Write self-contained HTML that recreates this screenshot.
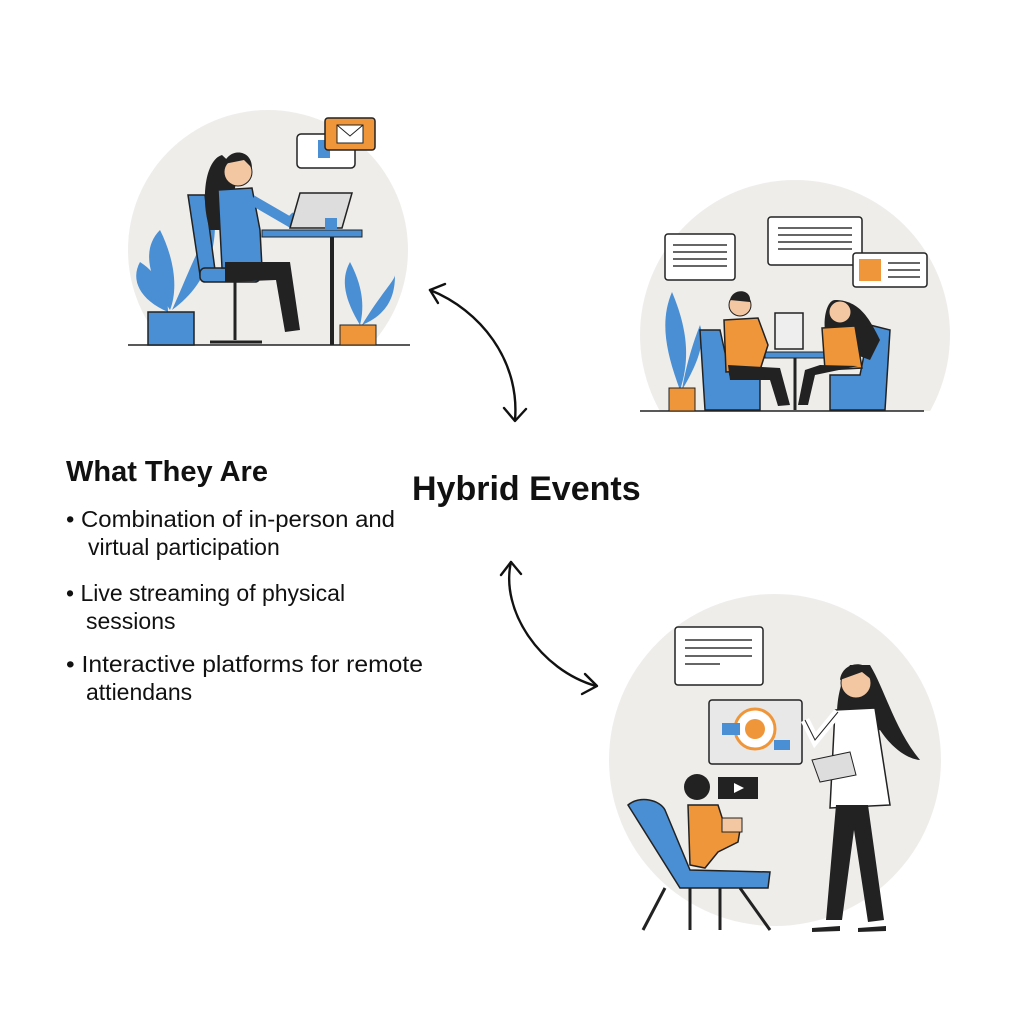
<!DOCTYPE html>
<html><head><style>
html,body{margin:0;padding:0;background:#fff;}
body{width:1024px;height:1024px;overflow:hidden;font-family:"Liberation Sans",sans-serif;}
</style></head><body>
<svg width="1024" height="1024" viewBox="0 0 1024 1024" xmlns="http://www.w3.org/2000/svg">
<defs>
<clipPath id="c1"><rect x="0" y="0" width="1024" height="345"/></clipPath>
<clipPath id="c2"><rect x="0" y="0" width="1024" height="411"/></clipPath>
</defs>
<rect width="1024" height="1024" fill="#fff"/>
<circle cx="268" cy="250" r="140" fill="#efedea" clip-path="url(#c1)"/>
<circle cx="795" cy="335" r="155" fill="#efedea" clip-path="url(#c2)"/>
<circle cx="775" cy="760" r="166" fill="#efedea"/>

<line x1="128" y1="345" x2="410" y2="345" stroke="#222" stroke-width="1.5"/>
<path d="M170 310 C150 280 140 250 160 230 C175 260 178 290 170 310Z" fill="#4a8fd4"/>
<path d="M172 310 C190 270 200 240 215 225 C215 260 200 290 172 310Z" fill="#4a8fd4"/>
<path d="M168 312 C140 300 130 280 140 262 C160 275 168 295 168 312Z" fill="#4a8fd4"/>
<rect x="148" y="312" width="46" height="33" fill="#4a8fd4" stroke="#222" stroke-width="1.5"/>
<path d="M188 195 L205 195 L215 270 L200 275Z" fill="#4a8fd4" stroke="#222" stroke-width="1.5"/>
<rect x="200" y="268" width="60" height="14" rx="5" fill="#4a8fd4" stroke="#222" stroke-width="1.5"/>
<line x1="235" y1="282" x2="235" y2="340" stroke="#222" stroke-width="3"/>
<line x1="210" y1="342" x2="262" y2="342" stroke="#222" stroke-width="3"/>
<path d="M222 155 C205 160 200 200 210 230 L228 230 L238 170Z" fill="#222"/>
<circle cx="238" cy="172" r="14" fill="#f2c7a2" stroke="#222"/>
<path d="M224 164 C228 148 252 148 252 168 L244 160Z" fill="#222"/>
<path d="M218 190 L252 188 L260 230 L262 268 L222 268 Z" fill="#4a8fd4" stroke="#222" stroke-width="1.5"/>
<path d="M252 200 L290 222 L296 216" stroke="#4a8fd4" stroke-width="10" fill="none"/>
<path d="M225 262 L290 262 L300 330 L285 332 L276 280 L225 282Z" fill="#222"/>
<rect x="262" y="230" width="100" height="7" fill="#4a8fd4" stroke="#222"/>
<line x1="332" y1="237" x2="332" y2="345" stroke="#222" stroke-width="4"/>
<path d="M290 228 L300 193 L352 193 L342 228Z" fill="#ddd" stroke="#222" stroke-width="1.5"/>
<rect x="325" y="218" width="12" height="12" fill="#4a8fd4"/>
<path d="M360 325 C345 300 340 280 350 262 C362 285 365 305 360 325Z" fill="#4a8fd4"/>
<path d="M362 325 C380 295 395 280 395 275 C395 300 385 315 362 325Z" fill="#4a8fd4"/>
<rect x="340" y="325" width="36" height="20" fill="#f0963a" stroke="#222"/>
<rect x="297" y="134" width="58" height="34" rx="4" fill="#fff" stroke="#222" stroke-width="1.5"/>
<rect x="318" y="140" width="12" height="18" fill="#4a8fd4"/>
<rect x="325" y="118" width="50" height="32" rx="3" fill="#f0963a" stroke="#222" stroke-width="1.5"/>
<rect x="337" y="125" width="26" height="18" fill="#fff" stroke="#222"/>
<path d="M337 125 L350 136 L363 125" fill="none" stroke="#222"/>

<line x1="640" y1="411" x2="924" y2="411" stroke="#222" stroke-width="1.5"/>
<rect x="665" y="234" width="70" height="46" rx="3" fill="#fff" stroke="#222" stroke-width="1.5"/>
<g stroke="#333" stroke-width="1.5"><line x1="673" y1="245" x2="727" y2="245"/><line x1="673" y1="252" x2="727" y2="252"/><line x1="673" y1="259" x2="727" y2="259"/><line x1="673" y1="266" x2="727" y2="266"/></g>
<rect x="768" y="217" width="94" height="48" rx="3" fill="#fff" stroke="#222" stroke-width="1.5"/>
<g stroke="#333" stroke-width="1.5"><line x1="778" y1="228" x2="852" y2="228"/><line x1="778" y1="235" x2="852" y2="235"/><line x1="778" y1="242" x2="852" y2="242"/><line x1="778" y1="249" x2="852" y2="249"/></g>
<rect x="853" y="253" width="74" height="34" rx="3" fill="#fff" stroke="#222" stroke-width="1.5"/>
<rect x="859" y="259" width="22" height="22" fill="#f0963a"/>
<g stroke="#333" stroke-width="1.5"><line x1="888" y1="263" x2="920" y2="263"/><line x1="888" y1="270" x2="920" y2="270"/><line x1="888" y1="277" x2="920" y2="277"/></g>
<path d="M680 390 C665 350 660 320 672 292 C688 330 690 360 680 390Z" fill="#4a8fd4"/>
<path d="M682 390 C700 360 705 340 700 325 C692 345 685 370 682 390Z" fill="#4a8fd4"/>
<rect x="669" y="388" width="26" height="23" fill="#f0963a" stroke="#222"/>
<path d="M700 330 L720 330 L730 375 L760 375 L760 410 L705 410Z" fill="#4a8fd4" stroke="#222" stroke-width="1.5"/>
<path d="M870 325 L890 330 L885 410 L830 410 L830 375 L860 375Z" fill="#4a8fd4" stroke="#222" stroke-width="1.5"/>
<rect x="765" y="352" width="62" height="6" fill="#4a8fd4" stroke="#222"/>
<line x1="795" y1="358" x2="795" y2="410" stroke="#222" stroke-width="3"/>
<rect x="775" y="313" width="28" height="36" fill="#eee" stroke="#222" stroke-width="1.5"/>
<circle cx="740" cy="305" r="11" fill="#f2c7a2" stroke="#222"/>
<path d="M730 300 C732 288 752 288 750 302Z" fill="#222"/>
<path d="M724 320 L758 318 L768 345 L760 370 L726 372Z" fill="#f0963a" stroke="#222" stroke-width="1.5"/>
<path d="M728 365 L780 368 L790 405 L778 406 L770 380 L730 380Z" fill="#222"/>
<path d="M835 300 C825 300 820 330 830 345 L870 360 L880 340 C870 320 860 300 835 300Z" fill="#222"/>
<circle cx="840" cy="312" r="11" fill="#f2c7a2" stroke="#222"/>
<path d="M822 328 L855 326 L862 368 L825 370Z" fill="#f0963a" stroke="#222" stroke-width="1.5"/>
<path d="M820 365 L858 366 L815 375 L808 405 L798 405 L805 370Z" fill="#222"/>

<rect x="675" y="627" width="88" height="58" rx="3" fill="#fff" stroke="#222" stroke-width="1.5"/>
<g stroke="#333" stroke-width="1.5"><line x1="685" y1="640" x2="752" y2="640"/><line x1="685" y1="648" x2="752" y2="648"/><line x1="685" y1="656" x2="752" y2="656"/><line x1="685" y1="664" x2="720" y2="664"/></g>
<rect x="709" y="700" width="93" height="64" rx="3" fill="#e8e8e8" stroke="#222" stroke-width="1.5"/>
<circle cx="755" cy="729" r="20" fill="#fff" stroke="#f0963a" stroke-width="3"/>
<circle cx="755" cy="729" r="10" fill="#f0963a"/>
<rect x="722" y="723" width="18" height="12" fill="#4a8fd4"/>
<rect x="774" y="740" width="16" height="10" fill="#4a8fd4"/>
<rect x="718" y="777" width="40" height="22" fill="#222"/>
<path d="M734 783 L744 788 L734 793Z" fill="#fff"/>
<path d="M628 805 C640 795 660 800 665 810 L690 870 L770 872 L768 888 L680 888 Z" fill="#4a8fd4" stroke="#222" stroke-width="1.5"/>
<g stroke="#222" stroke-width="3"><line x1="665" y1="888" x2="643" y2="930"/><line x1="690" y1="888" x2="690" y2="930"/><line x1="740" y1="888" x2="770" y2="930"/><line x1="720" y1="888" x2="720" y2="930"/></g>
<circle cx="697" cy="787" r="13" fill="#222"/>
<path d="M688 805 L718 805 L726 830 L740 830 L738 842 L718 852 L705 868 L690 865Z" fill="#f0963a" stroke="#222" stroke-width="1.5"/>
<rect x="722" y="818" width="20" height="14" fill="#f2c7a2" stroke="#222"/>
<path d="M850 665 C835 690 835 720 840 740 L880 730 C900 760 920 760 920 760 C895 730 885 690 870 665Z" fill="#222"/>
<circle cx="856" cy="683" r="15" fill="#f2c7a2" stroke="#222"/>
<path d="M840 680 C842 660 872 658 872 680 L862 672Z" fill="#222"/>
<path d="M835 710 L875 708 L890 805 L830 808Z" fill="#fff" stroke="#222" stroke-width="1.5"/>
<path d="M838 712 L815 740 L805 720" stroke="#fff" stroke-width="9" fill="none"/>
<path d="M838 712 L815 740 L805 720" stroke="#222" stroke-width="1" fill="none"/>
<path d="M812 760 L850 752 L856 775 L820 782Z" fill="#ddd" stroke="#222"/>
<path d="M836 805 L868 805 L884 920 L868 922 L854 830 L842 920 L826 920Z" fill="#222"/>
<path d="M812 928 L840 926 L840 931 L812 932Z" fill="#222"/>
<path d="M858 928 L886 926 L886 931 L858 932Z" fill="#222"/>

<g fill="none" stroke="#111" stroke-width="2.4" stroke-linecap="round" stroke-linejoin="round">
<path d="M430 290 C480 310 520 360 515 420"/>
<path d="M445 284 L430 290 L438 303"/>
<path d="M504 408 L515 421 L526 409"/>
<path d="M511 562 C500 610 540 670 596 686"/>
<path d="M501 575 L511 562 L521 574"/>
<path d="M585 674 L597 686 L582 694"/>
</g>

<text x="66" y="481" font-family="Liberation Sans, sans-serif" font-weight="bold" font-size="29" fill="#111">What They Are</text>
<text x="412" y="500" font-family="Liberation Sans, sans-serif" font-weight="bold" font-size="34" fill="#111">Hybrid Events</text>
<g font-family="Liberation Sans, sans-serif" font-size="23" fill="#111">
<text x="66" y="527" textLength="329" lengthAdjust="spacingAndGlyphs">• Combination of in-person and</text>
<text x="88" y="555">virtual participation</text>
<text x="66" y="601">• Live streaming of physical</text>
<text x="86" y="629">sessions</text>
<text x="66" y="672" textLength="357" lengthAdjust="spacingAndGlyphs">• Interactive platforms for remote</text>
<text x="86" y="700">attiendans</text>
</g>
</svg>
</body></html>
